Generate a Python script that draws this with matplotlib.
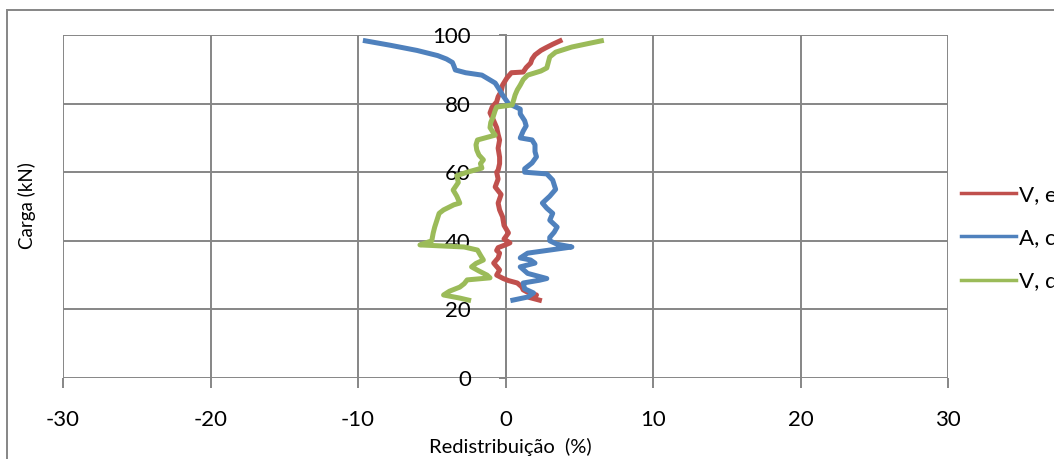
import matplotlib.pyplot as plt
from matplotlib.patches import Rectangle

# load (kN) vs redistribution (%), low load -> high load
ve_carga = [22.7, 23.5, 24.2, 25.0, 25.7, 26.6, 27.7, 28.4, 29.0, 30.0, 31.5, 33.5,
            35.0, 36.4, 37.2, 38.0, 39.0, 39.4, 40.5, 42.3, 44.5, 47.0, 49.0, 51.0,
            53.5, 55.7, 58.0, 60.0, 60.6, 62.5, 64.4, 67.0, 69.4, 71.0, 73.0, 75.0,
            77.3, 79.0, 80.5, 82.0, 83.5, 85.4, 87.5, 89.0, 89.2, 90.5, 91.8, 93.0,
            94.2, 95.5, 96.2, 97.3, 98.3]
ve_red = [2.3, 1.6, 2.1, 1.5, 1.2, 1.1, 0.8, 0.2, -0.15, -0.6, -0.4, -0.8,
          -0.5, -0.4, -0.6, -0.5, 0.1, 0.3, -0.1, 0.2, -0.1, -0.2, -0.4, -0.5,
          -0.3, -0.7, -0.5, -0.6, -0.5, -0.4, -0.4, -0.5, -0.4, -0.5, -0.6, -0.8,
          -1.05, -0.9, -0.6, -0.5, -0.3, -0.2, 0.1, 0.4, 1.2, 1.4, 1.7, 1.8,
          2.0, 2.4, 2.7, 3.2, 3.7]

ac_carga = [22.7, 23.6, 24.8, 26.0, 27.7, 28.5, 29.0, 30.5, 32.4, 33.5, 34.4, 35.0,
            36.4, 37.0, 38.2, 39.0, 40.0, 41.0, 42.5, 44.0, 46.0, 48.0, 49.5, 51.0,
            53.0, 55.0, 57.7, 59.5, 60.0, 61.0, 62.7, 64.5, 66.0, 68.0, 69.4, 70.0,
            72.0, 73.5, 75.0, 77.0, 78.4, 80.0, 82.5, 84.0, 86.0, 88.3, 89.0, 89.8,
            91.0, 92.0, 93.0, 94.0, 95.5, 97.0, 98.3]
ac_red = [0.5, 1.5, 1.9, 1.3, 1.2, 2.3, 2.8, 1.5, 1.0, 2.0, 1.7, 1.0,
          1.5, 2.5, 4.5, 3.5, 3.0, 3.0, 3.3, 3.5, 3.0, 3.2, 2.8, 2.5,
          3.0, 3.4, 3.2, 2.8, 1.3, 1.3, 1.8, 2.1, 2.0, 2.0, 1.8, 1.0,
          1.2, 1.4, 1.3, 1.0, 1.0, 0.2, -0.2, -0.4, -0.7, -1.6, -2.7, -3.4,
          -3.5, -3.6, -4.0, -4.6, -6.0, -7.8, -9.5]

vd_carga = [22.7, 23.3, 24.2, 25.3, 26.5, 27.5, 28.6, 29.2, 30.0, 31.2, 32.4, 33.4,
            34.4, 35.8, 37.3, 38.2, 38.8, 40.0, 42.3, 44.0, 46.0, 48.0, 49.0, 50.5,
            51.0, 53.0, 54.8, 57.0, 59.0, 60.0, 61.2, 62.5, 63.6, 65.0, 66.5, 68.0,
            69.4, 70.8, 72.0, 73.0, 74.5, 76.0, 78.0, 79.0, 79.6, 81.0, 82.5, 84.0,
            85.4, 87.0, 88.3, 89.5, 90.4, 92.0, 93.6, 95.0, 96.5, 97.5, 98.3]
vd_red = [-2.5, -3.1, -4.2, -3.8, -3.1, -2.8, -2.6, -1.05, -1.25, -1.8, -2.3, -2.0,
          -1.5, -1.7, -1.9, -2.8, -5.8, -5.0, -4.9, -4.8, -4.65, -4.5, -4.2, -3.5,
          -3.1, -3.3, -3.55, -3.2, -3.3, -2.6, -1.6, -1.7, -1.5, -1.8, -1.95, -2.0,
          -1.9, -0.7, -0.9, -1.05, -1.0, -0.85, -0.7, -0.6, 0.45, 0.55, 0.65, 0.8,
          1.0, 1.2, 1.5, 2.4, 2.8, 2.9, 3.0, 3.4, 4.5, 5.6, 6.5]

labels = ['V, e', 'A, c', 'V, d']
colors = ['#C0504D', '#4F81BD', '#9BBB59']

plt.rcParams['font.family'] = ['Lato', 'DejaVu Sans']
plt.rcParams['axes.unicode_minus'] = False
grid_col = '#868686'

fig = plt.figure(figsize=(10.54, 4.59), dpi=100)
ax = fig.add_axes([63 / 1054, 1 - 378 / 459, (948 - 63) / 1054, (378 - 35) / 459])

series = [(ve_red, ve_carga), (ac_red, ac_carga), (vd_red, vd_carga)]
for (x, y), lab, c in zip(series, labels, colors):
    ax.plot(x, y, color=c, lw=3.6, label=lab, solid_joinstyle='round', zorder=3)

ax.set_xlim(-30, 30)
ax.set_ylim(0, 100)
ax.set_xticks(range(-30, 31, 10))
ax.set_yticks(range(0, 101, 20))
ax.grid(True, color=grid_col, lw=1.4)

for s in ['top', 'right', 'bottom']:
    ax.spines[s].set_visible(False)
ax.spines['left'].set_position(('data', 0))
ax.spines['left'].set_color(grid_col)
ax.spines['left'].set_linewidth(1.4)

ax.tick_params(axis='x', length=7, width=1.4, color=grid_col, pad=16, labelsize=16)
ax.tick_params(axis='y', length=5, width=1.4, color=grid_col, pad=20, labelsize=16)

fig.text(27 / 1054, 1 - 206 / 459, 'Carga (kN)', rotation=90, ha='center', va='center', fontsize=13.5)
fig.text(510 / 1054, 1 - 447 / 459, 'Redistribuição  (%)', ha='center', va='center', fontsize=14.5)

leg = ax.legend(loc='upper left', bbox_to_anchor=(952 / 1054, 1 - 176 / 459),
                bbox_transform=fig.transFigure, frameon=False, fontsize=16,
                handlelength=2.5, handletextpad=0.1, labelspacing=1.05, borderaxespad=0)
for line in leg.get_lines():
    line.set_linewidth(2.5)

fig.patches.append(Rectangle((7 / 1054, -0.1), 1.2, 1.1 - 10 / 459, transform=fig.transFigure,
                             fill=False, edgecolor=grid_col, lw=1.4, figure=fig))

fig.savefig('out.png', dpi=100)
